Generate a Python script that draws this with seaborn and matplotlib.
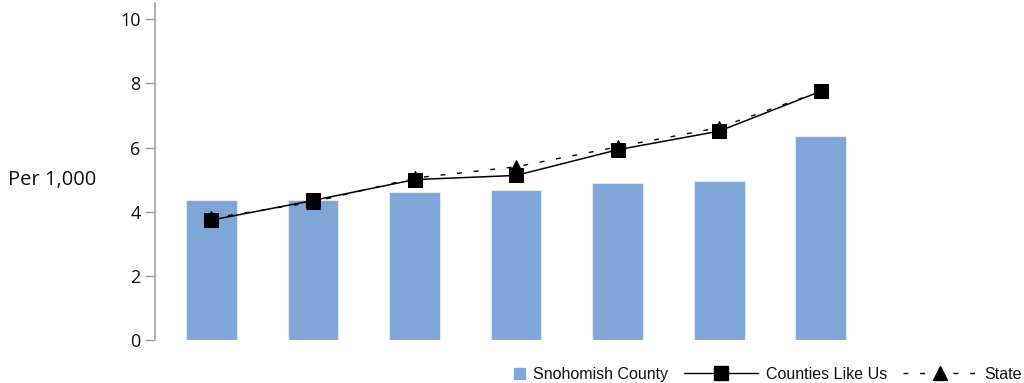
import numpy as np
import pandas as pd
import matplotlib
matplotlib.use("Agg")
import matplotlib.pyplot as plt
import seaborn as sns
from matplotlib.lines import Line2D
from matplotlib.patches import Patch, Rectangle
from matplotlib.legend_handler import HandlerPatch

# values (x categories are unlabelled)
periods = ["p1", "p2", "p3", "p4", "p5", "p6", "p7"]
snohomish = [4.38, 4.35, 4.60, 4.68, 4.88, 4.95, 6.37]
counties_like_us = [3.74, 4.35, 5.00, 5.13, 5.93, 6.51, 7.75]
state = [3.80, 4.30, 5.05, 5.40, 6.02, 6.62, 7.75]

sns.set_theme(style="white")
plt.rcParams['font.family'] = ['Open Sans', 'DejaVu Sans']
plt.rcParams['text.color'] = '#111111'
plt.rcParams['ytick.labelcolor'] = '#111111'

df = pd.DataFrame({"period": periods, "Snohomish County": snohomish,
                   "Counties Like Us": counties_like_us, "State": state})
df["pos"] = np.arange(len(periods))

fig = plt.figure(figsize=(10.24, 3.83), dpi=100)
ax = fig.add_axes([0.151, 0.112, 0.70, 0.88])

bar_color = "#7fa6d7"
dash = (0, (3.5, 8.5))
sns.barplot(data=df, x="period", y="Snohomish County", color=bar_color,
            width=0.5, saturation=1, ax=ax, edgecolor="#dce8f5", linewidth=0.8)
sns.lineplot(data=df, x="pos", y="State", ax=ax, color="black", linewidth=1,
             linestyle=dash, marker="^", markersize=10,
             markeredgecolor="black", markerfacecolor="black")
sns.lineplot(data=df, x="pos", y="Counties Like Us", ax=ax, color="black",
             linewidth=1.1, marker="s", markersize=10,
             markeredgecolor="black", markerfacecolor="black")

ax.set_xlim(-0.56, 6.5)
ax.set_ylim(0, 10.5)
ax.set_yticks([0, 2, 4, 6, 8, 10])
ax.set_xticks([])
ax.set_xlabel("")
ax.set_ylabel("Per 1,000", rotation=0, fontsize=14.5, labelpad=0, ha="left",
              va="center", color="#111111")
ax.yaxis.set_label_coords(-0.205, 0.475)
for s in ["top", "right", "bottom"]:
    ax.spines[s].set_visible(False)
ax.spines["left"].set_color("#a0a0a0")
ax.spines["left"].set_linewidth(1.2)
ax.tick_params(axis="y", which="both", left=True, length=7, width=1,
               color="#a0a0a0", labelsize=13, pad=3)


# small square swatch at the right end of the handle box
def square_swatch(legend, orig_handle, xdescent, ydescent, width, height, fontsize):
    s = 8
    return Rectangle((width - s - xdescent, -ydescent + (height - s) / 2), s, s)


handles = [
    Patch(facecolor=bar_color, edgecolor=bar_color),
    Line2D([0], [0], color="black", lw=1, marker="s", markersize=10),
    Line2D([0], [0], color="black", lw=1, linestyle=dash, marker="^", markersize=10),
]
fig.legend(handles, ["Snohomish County", "Counties Like Us", "State"],
           loc="lower right", bbox_to_anchor=(1.012, -0.035), ncol=3, frameon=False,
           handlelength=4.6, handleheight=0.9, columnspacing=1.0, handletextpad=0.5,
           handler_map={Patch: HandlerPatch(patch_func=square_swatch)},
           prop={"family": "Liberation Sans", "size": 11.5})

fig.savefig("out.png", dpi=100)
